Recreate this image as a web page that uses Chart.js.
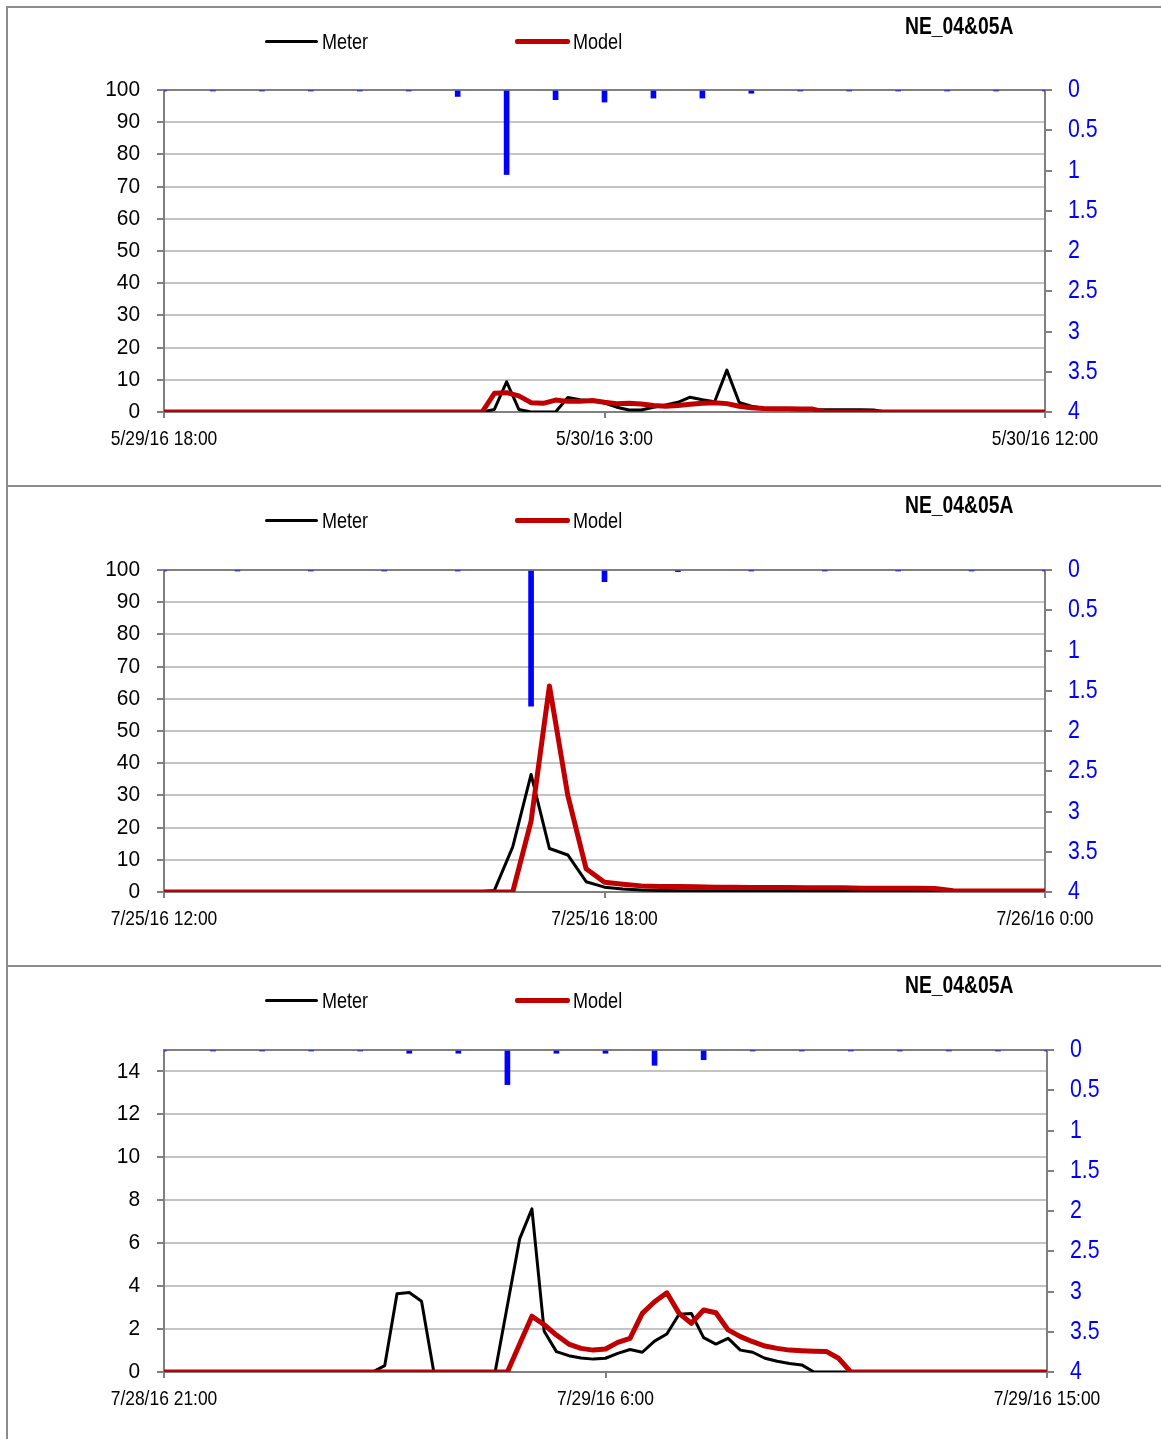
<!DOCTYPE html>
<html>
<head>
<meta charset="utf-8">
<script src="https://cdn.jsdelivr.net/npm/chart.js@4.4.1/dist/chart.umd.min.js"></script>
<style>
  html, body { margin: 0; padding: 0; background: #fff; }
  body { position: relative; width: 1161px; height: 1439px; overflow: hidden;
         font-family: 'Liberation Sans', Arial, sans-serif; }
  .panel { position: absolute; left: 0; width: 1161px; height: 480px; }
  .panel canvas { position: absolute; left: 0; top: 0; }
  .rule-h { position: absolute; left: 6px; right: 0; height: 2px; background: #8c8c8c; }
  .rule-v { position: absolute; left: 6px; top: 6px; width: 2px; bottom: 0; background: #8c8c8c; }
  .legend-line { position: absolute; border-radius: 2px; }
  .legend-text { position: absolute; font-size: 22px; line-height: 22px; color: #000; white-space: nowrap;
                 transform: scaleX(0.82); transform-origin: 0 0; }
  .title { position: absolute; font-size: 23px; line-height: 23px; font-weight: bold; color: #000; white-space: nowrap;
           transform: scaleX(0.84); transform-origin: 0 0; }
</style>
</head>
<body>
<script>
// ---- Flow (meter vs model) at 15-minute steps, rainfall per hour ----

// Event 1: 5/29/16 18:00 - 5/30/16 12:00
const xLabels1 = ['5/29/16 18:00', '5/30/16 3:00', '5/30/16 12:00'];
const meter1 = [
  0,0,0,0,0,0,0,0,0,0, 0,0,0,0,0,0,0,0,0,0, 0,0,0,0,0,0,0,0.8,9.4,0.8,
  0,0,0,4.5,3.8,3.5,2.8,1.5,0.6,0.6, 1.5,2.2,3.0,4.6,3.8,3.2,13.0,3.0,1.8,1.2,
  0.9,0.8,0.7,0.7,0.7,0.7,0.7,0.7,0.6,0, 0,0,0,0,0,0,0,0,0,0, 0,0,0
];
const model1 = [
  0,0,0,0,0,0,0,0,0,0, 0,0,0,0,0,0,0,0,0,0, 0,0,0,0,0,0,0,5.8,6.0,5.0,
  2.9,2.7,3.7,3.3,3.3,3.6,3.0,2.6,2.7,2.5, 2.0,1.8,2.0,2.4,2.7,2.9,2.6,1.8,1.3,1.1,
  1.0,1.0,0.9,0.9,0,0,0,0,0,0, 0,0,0,0,0,0,0,0,0,0, 0,0,0
];
const rain1 = [0.01,0.01,0.01,0.01,0.01,0.01,0.08,1.05,0.12,0.15,0.1,0.1,0.04,0.01,0.01,0.01,0.01,0.01,0.01];

// Event 2: 7/25/16 12:00 - 7/26/16 0:00
const xLabels2 = ['7/25/16 12:00', '7/25/16 18:00', '7/26/16 0:00'];
const meter2 = [
  0,0,0,0,0,0,0,0,0,0, 0,0,0,0,0,0,0,0,0.5,14,
  36.5,13.5,11.5,3.2,1.5,0.9,0.6,0.5,0.4,0.4, 0.4,0.4,0.4,0.4,0.4,0.4,0.4,0.4,0.4,0.4,
  0.4,0.3,0.3,0.3,0.3,0.2,0.2,0.2,0.2
];
const model2 = [
  0,0,0,0,0,0,0,0,0,0, 0,0,0,0,0,0,0,0,0,0,
  22,64,30,7.2,3.0,2.4,1.9,1.7,1.7,1.6, 1.5,1.5,1.4,1.4,1.4,1.3,1.3,1.3,1.2,1.2,
  1.2,1.2,1.1,0.4,0.3,0.3,0.3,0.3,0.3
];
const rain2 = [0.01,0.01,0.01,0.01,0.01,1.69,0.145,0.02,0.01,0.01,0.01,0.01,0.01];

// Event 3: 7/28/16 21:00 - 7/29/16 15:00
const xLabels3 = ['7/28/16 21:00', '7/29/16 6:00', '7/29/16 15:00'];
const meter3 = [
  0,0,0,0,0,0,0,0,0,0, 0,0,0,0,0,0,0,0,0.3,3.65,
  3.7,3.3,0,0,0,0,0,0,3.1,6.2, 7.6,1.9,0.95,0.76,0.65,0.6,0.64,0.87,1.05,0.92,
  1.44,1.77,2.69,2.73,1.6,1.3,1.57,1.02,0.92,0.64, 0.5,0.4,0.33,0,0,0,0,0,0,0,
  0,0,0,0,0,0,0,0,0,0, 0,0,0
];
const model3 = [
  0,0,0,0,0,0,0,0,0,0, 0,0,0,0,0,0,0,0,0,0,
  0,0,0,0,0,0,0,0,0,1.3, 2.6,2.2,1.72,1.3,1.1,1.02,1.07,1.38,1.57,2.73,
  3.27,3.69,2.73,2.27,2.89,2.76,1.96,1.65,1.41,1.21, 1.1,1.02,0.99,0.97,0.96,0.64,0,0,0,0,
  0,0,0,0,0,0,0,0,0,0, 0,0,0
];
const rain3 = [0.01,0.01,0.01,0.01,0.01,0.04,0.04,0.43,0.04,0.04,0.19,0.12,0.01,0.01,0.01,0.01,0.01,0.01,0.01];

// Axis ticks
const flowTicksA = [0,10,20,30,40,50,60,70,80,90,100];
const flowTicksB = [0,2,4,6,8,10,12,14];
const rainTicks = [0,0.5,1,1.5,2,2.5,3,3.5,4];

const siteName = 'NE_04&05A';
const seriesNames = ['Meter', 'Model'];

// ---- page layout ----
Chart.defaults.font.family = "'Liberation Sans', Arial, sans-serif";
const AXIS = '#808080', GRID = '#c4c4c4';

// font sizes per axis; each size gets its own horizontal squeeze (narrow lettering)
const FS_X = 21, FS_Y = 22, FS_R = 26;
const squeeze = { [FS_X]: 0.83, [FS_Y]: 0.95, [FS_R]: 0.82 };

const panels = [
  { top: 6,   plotTop: 84, plotBottom: 406, plotRight: 1045, hours: 18, xLabels: xLabels1, meter: meter1, model: model1, rain: rain1, flowMax: 100, flowTicks: flowTicksA },
  { top: 485, plotTop: 85, plotBottom: 407, plotRight: 1045, hours: 12, xLabels: xLabels2, meter: meter2, model: model2, rain: rain2, flowMax: 100, flowTicks: flowTicksA },
  { top: 965, plotTop: 85, plotBottom: 407, plotRight: 1047, hours: 18, xLabels: xLabels3, meter: meter3, model: model3, rain: rain3, flowMax: 15,  flowTicks: flowTicksB }
];

const vr = document.createElement('div'); vr.className = 'rule-v'; document.body.appendChild(vr);

// dark top edge of the plot area
const plotTopEdge = {
  id: 'plotTopEdge',
  beforeDatasetsDraw(chart) {
    const a = chart.chartArea, c = chart.ctx;
    c.save(); c.strokeStyle = AXIS; c.lineWidth = 2;
    c.beginPath(); c.moveTo(a.left, a.top); c.lineTo(a.right, a.top); c.stroke();
    c.restore();
  }
};

// narrow lettering: squeeze text horizontally around its anchor point
function narrowText(ctx) {
  const fill = ctx.fillText.bind(ctx);
  ctx.fillText = function (text, x, y, maxWidth) {
    const m = /(\d+(?:\.\d+)?)px/.exec(ctx.font);
    const k = m ? (squeeze[Math.round(parseFloat(m[1]))] || 1) : 1;
    if (k === 1) return maxWidth === undefined ? fill(text, x, y) : fill(text, x, y, maxWidth);
    ctx.save();
    ctx.translate(x, y);
    ctx.scale(k, 1);
    if (maxWidth === undefined) fill(text, 0, 0); else fill(text, 0, 0, maxWidth / k);
    ctx.restore();
  };
}

panels.forEach(p => {
  const hr = document.createElement('div'); hr.className = 'rule-h'; hr.style.top = p.top + 'px';
  document.body.appendChild(hr);

  const wrap = document.createElement('div'); wrap.className = 'panel'; wrap.style.top = p.top + 'px';
  document.body.appendChild(wrap);

  const canvas = document.createElement('canvas'); canvas.width = 1161; canvas.height = 480;
  canvas.style.width = '1161px'; canvas.style.height = '480px';
  wrap.appendChild(canvas);
  narrowText(canvas.getContext('2d'));

  // legend + site title
  const mk = (cls, css, text) => { const d = document.createElement('div'); d.className = cls; Object.assign(d.style, css); if (text) d.textContent = text; wrap.appendChild(d); };
  mk('legend-line', { left: '265px', top: '34px', width: '53px', height: '3px', background: '#000' });
  mk('legend-text', { left: '322px', top: '25px' }, seriesNames[0]);
  mk('legend-line', { left: '515px', top: '33px', width: '55px', height: '5px', background: '#c00000' });
  mk('legend-text', { left: '573px', top: '25px' }, seriesNames[1]);
  mk('title', { left: '905px', top: '9px' }, siteName);

  const toPts = arr => arr.map((v, i) => ({ x: i * 0.25, y: v }));
  const rainPts = p.rain.map((v, h) => ({ x: h, y: v }));

  new Chart(canvas, {
    data: {
      datasets: [
        { type: 'line', label: seriesNames[1], data: toPts(p.model), borderColor: '#c00000', borderWidth: 5,
          pointRadius: 0, tension: 0, borderJoinStyle: 'round', borderCapStyle: 'round', xAxisID: 'x', yAxisID: 'y', order: 0 },
        { type: 'line', label: seriesNames[0], data: toPts(p.meter), borderColor: '#000000', borderWidth: 3,
          pointRadius: 0, tension: 0, borderJoinStyle: 'round', borderCapStyle: 'round', xAxisID: 'x', yAxisID: 'y', order: 1 },
        { type: 'bar', label: 'Rain', data: rainPts, backgroundColor: '#0000ff', barThickness: 5,
          xAxisID: 'x', yAxisID: 'y2', order: 2 }
      ]
    },
    options: {
      responsive: false, animation: false, events: [],
      layout: { padding: { top: p.plotTop, left: 0, right: 0, bottom: 0 } },
      plugins: { legend: { display: false }, tooltip: { enabled: false } },
      scales: {
        x: {
          type: 'linear', position: 'bottom', min: 0, max: p.hours, offset: false,
          afterBuildTicks: s => { s.ticks = [0, p.hours / 2, p.hours].map(v => ({ value: v })); },
          afterFit: s => { s.height = 480 - p.plotBottom; },
          ticks: { callback: (v, i) => p.xLabels[i], autoSkip: false, maxRotation: 0, padding: 9,
                   color: '#000', font: { size: FS_X } },
          grid: { offset: false, drawOnChartArea: false, drawTicks: true, tickLength: 6, tickColor: AXIS, lineWidth: 2 },
          border: { display: true, color: AXIS, width: 2 }
        },
        y: {
          type: 'linear', position: 'left', min: 0, max: p.flowMax,
          afterBuildTicks: s => { s.ticks = p.flowTicks.map(v => ({ value: v })); },
          afterFit: s => { s.width = 164; },
          ticks: { padding: 17, color: '#000', font: { size: FS_Y } },
          grid: { color: GRID, lineWidth: 2, drawTicks: true, tickLength: 7, tickColor: AXIS },
          border: { display: true, color: AXIS, width: 2 }
        },
        y2: {
          type: 'linear', position: 'right', min: 0, max: 4, reverse: true,
          afterBuildTicks: s => { s.ticks = rainTicks.map(v => ({ value: v })); },
          afterFit: s => { s.width = 1161 - p.plotRight; },
          ticks: { padding: 16, color: '#0000ff', font: { size: FS_R }, callback: v => String(v) },
          grid: { drawOnChartArea: false, drawTicks: true, tickLength: 7, tickColor: AXIS, lineWidth: 2 },
          border: { display: true, color: AXIS, width: 2 }
        }
      }
    },
    plugins: [plotTopEdge]
  });
});
</script>
</body>
</html>
